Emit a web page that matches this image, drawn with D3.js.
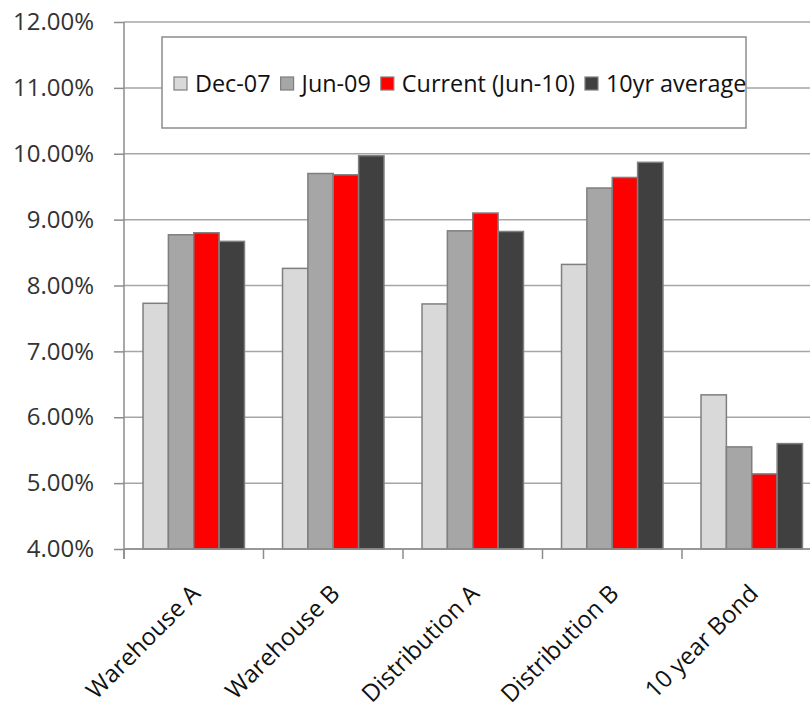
<!DOCTYPE html>
<html>
<head>
<meta charset="utf-8">
<script src="https://cdn.jsdelivr.net/npm/d3@7"></script>
<style>
  html, body { margin: 0; padding: 0; background: #fff; }
  svg { display: block; font-family: "Open Sans", sans-serif; }
</style>
</head>
<body>
<svg id="chart" width="810" height="705"></svg>
<script>
// Yields by property type, in percent
const categories = ["Warehouse A", "Warehouse B", "Distribution A", "Distribution B", "10 year Bond"];
const seriesNames = ["Dec-07", "Jun-09", "Current (Jun-10)", "10yr average"];
const dec07   = [7.73, 8.26, 7.72, 8.32, 6.34];
const jun09   = [8.77, 9.70, 8.83, 9.48, 5.55];
const current = [8.80, 9.68, 9.10, 9.64, 5.14];
const avg10yr = [8.67, 9.97, 8.82, 9.87, 5.60];
const yTicks  = [4, 5, 6, 7, 8, 9, 10, 11, 12];
const seriesColors = ["#d9d9d9", "#a6a6a6", "#ff0000", "#404040"];

const seriesValues = [dec07, jun09, current, avg10yr];

const svg = d3.select("#chart");
const plotLeft = 124, plotTop = 22, plotBottom = 549;
const catStep = 139.5;
const plotRight = plotLeft + catStep * categories.length;

const x0 = d3.scaleBand().domain(categories).range([plotLeft, plotRight]).paddingInner(0).paddingOuter(0);
const x1 = d3.scaleBand().domain(seriesNames).range([0, x0.bandwidth()]).paddingInner(0).paddingOuter(0.75);
const y = d3.scaleLinear().domain([4, 12]).range([plotBottom, plotTop]);
const color = d3.scaleOrdinal().domain(seriesNames).range(seriesColors);

// horizontal gridlines
svg.append("g")
  .selectAll("line")
  .data(yTicks)
  .join("line")
  .attr("x1", plotLeft).attr("x2", 810)
  .attr("y1", d => y(d)).attr("y2", d => y(d))
  .attr("stroke", "#a6a6a6").attr("stroke-width", 1.5);

// y axis
const yAxis = svg.append("g")
  .attr("transform", `translate(${plotLeft},0)`)
  .call(d3.axisLeft(y).tickValues(yTicks).tickSize(10).tickPadding(20).tickFormat(d => d.toFixed(2) + "%"));
yAxis.select(".domain").remove();
yAxis.selectAll(".tick line").attr("stroke", "#8c8c8c").attr("stroke-width", 1.5);
yAxis.selectAll(".tick text")
  .attr("fill", "#333").style("font-size", "24px").style("font-family", "'Open Sans', sans-serif");
svg.append("line")
  .attr("x1", plotLeft).attr("x2", plotLeft).attr("y1", plotTop).attr("y2", plotBottom + 10)
  .attr("stroke", "#8c8c8c").attr("stroke-width", 1.5);

// bars
const rows = categories.map((c, i) => ({ cat: c, vals: seriesNames.map((s, j) => ({ s, v: seriesValues[j][i] })) }));
svg.append("g")
  .selectAll("g")
  .data(rows)
  .join("g")
  .attr("transform", d => `translate(${x0(d.cat)},0)`)
  .selectAll("rect")
  .data(d => d.vals)
  .join("rect")
  .attr("x", d => x1(d.s))
  .attr("y", d => y(d.v))
  .attr("width", x1.bandwidth())
  .attr("height", d => y(4) - y(d.v))
  .attr("fill", d => color(d.s))
  .attr("stroke", "#7f7f7f").attr("stroke-width", 1.5);

// x axis line and category boundary ticks
svg.append("line")
  .attr("x1", plotLeft).attr("x2", 810).attr("y1", plotBottom).attr("y2", plotBottom)
  .attr("stroke", "#8c8c8c").attr("stroke-width", 1.5);
svg.append("g")
  .selectAll("line")
  .data(categories)
  .join("line")
  .attr("x1", d => x0(d)).attr("x2", d => x0(d))
  .attr("y1", plotBottom).attr("y2", plotBottom + 10)
  .attr("stroke", "#8c8c8c").attr("stroke-width", 1.5);

// rotated category labels
svg.append("g")
  .selectAll("text")
  .data(categories)
  .join("text")
  .attr("transform", d => `translate(${x0(d) + x0.bandwidth() / 2 + 2},${plotBottom + 40}) rotate(-45)`)
  .attr("text-anchor", "end")
  .attr("dy", "0.35em")
  .attr("fill", "#111")
  .style("font-size", "24px")
  .text(d => d);

// legend
const legend = svg.append("g");
legend.append("rect")
  .attr("x", 162).attr("y", 37).attr("width", 584).attr("height", 91)
  .attr("fill", "#fff").attr("stroke", "#8c8c8c").attr("stroke-width", 1.5);
let lx = 174;
seriesNames.forEach(s => {
  legend.append("rect")
    .attr("x", lx).attr("y", 77).attr("width", 13).attr("height", 13)
    .attr("fill", color(s)).attr("stroke", "#7f7f7f").attr("stroke-width", 1.2);
  const t = legend.append("text")
    .attr("x", lx + 21).attr("y", 84).attr("dy", "0.35em")
    .attr("fill", "#111").style("font-size", "23.4px")
    .text(s);
  lx += 21 + t.node().getComputedTextLength() + 10;
});
</script>
</body>
</html>
